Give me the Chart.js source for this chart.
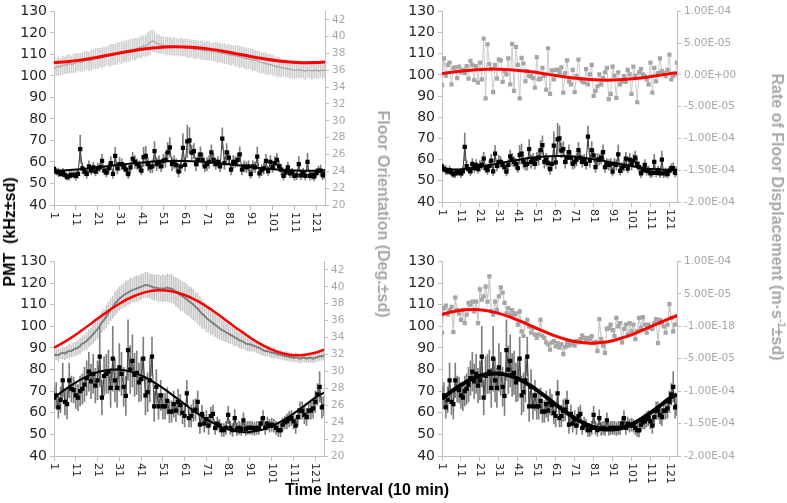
<!DOCTYPE html>
<html>
<head>
<meta charset="utf-8">
<script src="https://cdn.jsdelivr.net/npm/chart.js@4.4.0/dist/chart.umd.min.js"></script>
<style>
  body { margin: 0; background: #fff; }
  #lienzo { position: relative; width: 787px; height: 503px; overflow: hidden; font-family: "Liberation Sans", Arial, sans-serif; }
  canvas { position: absolute; }
  .titulo { position: absolute; font-weight: bold; font-size: 16px; white-space: nowrap; color: #000; }
  .gris { color: #a6a6a6; }
  .titulo sup { font-size: 10px; line-height: 0; }
</style>
</head>
<body>
<div id="lienzo">
  <canvas id="panelSupIzq" width="390" height="250" style="left:0;top:0"></canvas>
  <canvas id="panelSupDer" width="397" height="250" style="left:390px;top:0"></canvas>
  <canvas id="panelInfIzq" width="390" height="253" style="left:0;top:250px"></canvas>
  <canvas id="panelInfDer" width="397" height="253" style="left:390px;top:250px"></canvas>

  <div class="titulo" style="left:10px;top:232px;transform:translate(-50%,-50%) rotate(-90deg)">PMT&nbsp; (kHz±sd)</div>
  <div class="titulo gris" style="left:383px;top:214px;transform:translate(-50%,-50%) rotate(90deg)">Floor Orientation (Deg.±sd)</div>
  <div class="titulo gris" style="left:777px;top:217px;transform:translate(-50%,-50%) rotate(90deg)">Rate of Floor Displacement (m·s<sup>-1</sup>±sd)</div>
  <div class="titulo" style="left:367px;top:490px;transform:translate(-50%,-50%)">Time Interval (10 min)</div>
</div>

<script>
/* ========= EJES ========= */

const intervalos = Array.from({ length: 125 }, (_, i) => i + 1);
const ticksX = [1, 11, 21, 31, 41, 51, 61, 71, 81, 91, 101, 111, 121];
const ticksPmt = [40, 50, 60, 70, 80, 90, 100, 110, 120, 130];
const ticksOrient = [20, 22, 24, 26, 28, 30, 32, 34, 36, 38, 40, 42];
// tasa de desplazamiento en unidades de 1E-05
const ticksTasa = [-20, -15, -10, -5, 0, 5, 10];
const etiquetasTasaSup = ['-2.00E-04', '-1.50E-04', '-1.00E-04', '-5.00E-05', '0.00E+00', '5.00E-05', '1.00E-04'];
const etiquetasTasaInf = ['-2.00E-04', '-1.50E-04', '-1.00E-04', '-5.00E-05', '-1.00E-18', '5.00E-05', '1.00E-04'];

/* ========= DATOS ========= */

// PMT (kHz) - registro superior
const pmtSup = [
  56.8, 55.5, 55.2, 54.5, 55.0, 54.0, 53.0, 53.5, 54.0, 54.0,
  53.5, 54.5, 66.0, 57.0, 55.5, 54.5, 58.0, 56.0, 57.5, 55.5,
  57.0, 57.5, 60.5, 56.0, 55.0, 57.0, 59.5, 54.5, 62.8, 57.0,
  59.0, 59.0, 57.5, 56.5, 54.3, 57.5, 61.5, 60.0, 59.0, 58.0,
  56.0, 62.3, 62.8, 59.0, 57.5, 58.0, 65.0, 59.0, 60.0, 58.0,
  60.5, 61.0, 64.5, 66.8, 59.0, 60.0, 58.5, 55.5, 58.0, 66.6,
  58.7, 69.6, 70.0, 64.3, 65.0, 59.0, 61.0, 63.5, 61.0, 58.0,
  59.0, 60.0, 64.5, 61.0, 59.0, 60.0, 58.0, 70.9, 59.5, 64.5,
  62.0, 56.5, 60.0, 60.0, 61.0, 63.5, 56.5, 58.0, 57.5, 58.0,
  54.3, 58.0, 57.5, 62.5, 54.7, 56.2, 57.0, 60.5, 55.8, 60.0,
  57.6, 59.5, 61.0, 58.0, 56.5, 53.5, 55.0, 57.5, 54.7, 55.0,
  53.5, 53.8, 59.0, 53.8, 55.0, 53.5, 60.0, 53.5, 54.0, 53.2,
  54.8, 56.0, 56.0, 53.8, 54.5
];
const pmtSupSd = [
  1.5, 1.5, 2.0, 1.5, 2.0, 1.5, 1.5, 2.0, 1.5, 1.5,
  2.0, 2.0, 6.5, 2.5, 2.0, 2.0, 2.5, 2.0, 2.5, 2.0,
  2.5, 2.0, 3.0, 2.0, 2.0, 2.5, 3.0, 2.0, 4.0, 2.5,
  3.0, 2.5, 2.0, 2.5, 2.0, 2.5, 3.0, 3.0, 2.5, 2.5,
  2.0, 4.5, 4.5, 3.0, 2.5, 3.0, 4.5, 3.0, 3.0, 2.5,
  3.0, 3.5, 4.5, 4.5, 3.0, 3.0, 3.0, 2.5, 3.0, 6.5,
  3.0, 7.5, 6.0, 3.5, 3.5, 3.0, 3.0, 3.5, 3.0, 2.5,
  3.0, 3.0, 3.5, 3.0, 2.5, 2.5, 2.5, 5.0, 3.0, 4.0,
  3.0, 2.5, 3.0, 2.5, 3.0, 3.5, 2.5, 2.5, 2.5, 2.5,
  2.0, 2.5, 2.5, 4.5, 2.0, 2.5, 2.5, 3.0, 2.0, 3.0,
  2.5, 3.0, 3.0, 2.5, 2.5, 2.0, 2.0, 2.5, 2.0, 2.0,
  2.0, 2.0, 3.5, 2.0, 2.0, 2.0, 4.0, 2.0, 2.0, 2.0,
  2.0, 2.0, 2.5, 2.0, 2.0
];

// PMT (kHz) - registro inferior
const pmtInf = [
  67.0, 68.0, 62.5, 66.0, 75.0, 65.0, 64.0, 75.0, 71.0, 70.5,
  68.0, 67.0, 70.0, 71.0, 73.0, 76.0, 79.0, 74.5, 78.0, 72.5,
  75.0, 86.0, 67.0, 77.0, 78.0, 79.0, 71.5, 85.0, 75.0, 71.5,
  81.0, 78.0, 72.0, 67.8, 89.0, 80.0, 84.0, 77.5, 78.5, 74.0,
  75.5, 85.0, 68.0, 69.5, 75.0, 86.0, 63.0, 72.0, 63.0, 68.0,
  63.0, 63.0, 65.5, 60.5, 60.5, 64.0, 61.0, 65.0, 63.5, 60.0,
  58.5, 69.0, 57.5, 58.5, 61.0, 61.5, 65.0, 54.5, 59.5, 55.0,
  57.0, 54.0, 58.5, 59.5, 53.0, 55.0, 54.0, 52.0, 52.0, 53.0,
  59.0, 53.0, 52.0, 57.5, 52.5, 53.0, 52.5, 56.5, 52.5, 53.0,
  53.0, 53.0, 52.5, 53.0, 53.0, 55.0, 57.5, 53.0, 55.0, 54.0,
  54.5, 54.0, 53.0, 52.0, 51.8, 54.5, 55.5, 56.0, 57.0, 57.5,
  56.0, 54.0, 58.0, 61.0, 61.0, 59.0, 58.0, 61.0, 61.0, 62.0,
  65.0, 68.5, 72.0, 62.5, 63.0
];
const pmtInfSd = [
  5, 6, 5, 6, 8, 6, 7, 8, 6, 6,
  6, 6, 7, 7, 8, 8, 9, 8, 9, 8,
  9, 14, 8, 9, 9, 10, 9, 15, 10, 9,
  11, 10, 9, 9, 14, 11, 12, 10, 10, 9,
  10, 10, 9, 9, 10, 9, 7, 8, 6, 7,
  6, 6, 6, 5, 5, 6, 5, 6, 5, 5,
  5, 6, 4, 5, 5, 5, 5, 4, 4, 4,
  4, 4, 4, 4, 3, 3, 3, 3, 3, 3,
  4, 3, 3, 4, 3, 3, 3, 3.5, 3, 3,
  3, 3, 3, 3, 3, 3, 3.5, 3, 3, 3,
  3, 3, 3, 3, 3, 3, 3, 3.5, 3.5, 3.5,
  3.5, 3.5, 4, 4, 4, 4, 4, 4, 4, 4.5,
  5, 5, 7, 5, 4.5
];

// Orientación del piso (grados)
const orientSup = [
  36.2, 36.4, 36.5, 36.4, 36.6, 36.6, 36.7, 36.8, 36.7, 36.8,
  36.9, 37.0, 36.9, 37.0, 37.1, 37.2, 37.1, 37.2, 37.3, 37.4,
  37.4, 37.5, 37.5, 37.6, 37.7, 37.7, 37.8, 37.9, 37.9, 38.0,
  38.1, 38.1, 38.2, 38.3, 38.3, 38.4, 38.5, 38.5, 38.6, 38.7,
  38.8, 38.9, 38.9, 39.1, 39.3, 39.5, 39.4, 39.2, 39.1, 39.0,
  39.0, 38.9, 38.9, 38.9, 38.8, 38.8, 38.8, 38.7, 38.8, 38.7,
  38.7, 38.6, 38.6, 38.6, 38.5, 38.5, 38.5, 38.4, 38.4, 38.3,
  38.3, 38.3, 38.2, 38.2, 38.2, 38.1, 38.1, 38.0, 38.0, 37.9,
  37.9, 37.8, 37.8, 37.7, 37.7, 37.6, 37.6, 37.5, 37.4, 37.4,
  37.3, 37.2, 37.2, 37.1, 37.0, 36.9, 36.9, 36.8, 36.7, 36.7,
  36.6, 36.5, 36.4, 36.4, 36.3, 36.3, 36.2, 36.2, 36.1, 36.1,
  36.0, 36.0, 36.1, 36.0, 36.0, 35.9, 36.0, 36.0, 35.9, 36.0,
  36.0, 35.9, 36.0, 36.0, 36.0
];
const orientSupSd = [
  0.9, 1.0, 1.1, 1.0, 1.1, 1.0, 1.1, 1.1, 1.0, 1.1,
  1.1, 1.0, 1.1, 1.1, 1.2, 1.1, 1.1, 1.2, 1.1, 1.2,
  1.2, 1.1, 1.2, 1.2, 1.1, 1.2, 1.3, 1.2, 1.2, 1.3,
  1.2, 1.3, 1.2, 1.3, 1.2, 1.3, 1.2, 1.3, 1.2, 1.2,
  1.3, 1.2, 1.3, 1.4, 1.4, 1.3, 1.2, 1.1, 1.1, 1.0,
  1.0, 1.0, 1.1, 1.0, 1.0, 1.1, 1.0, 1.0, 1.1, 1.0,
  1.0, 1.1, 1.1, 1.0, 1.1, 1.1, 1.0, 1.1, 1.1, 1.0,
  1.1, 1.1, 1.0, 1.1, 1.1, 1.2, 1.1, 1.1, 1.2, 1.1,
  1.2, 1.2, 1.1, 1.2, 1.2, 1.3, 1.2, 1.2, 1.3, 1.2,
  1.2, 1.3, 1.2, 1.2, 1.3, 1.2, 1.2, 1.3, 1.2, 1.2,
  1.2, 1.1, 1.2, 1.1, 1.1, 1.0, 1.1, 1.0, 1.0, 1.0,
  1.0, 0.9, 1.0, 0.9, 0.9, 1.0, 0.9, 0.9, 1.0, 0.9,
  0.9, 0.9, 0.8, 0.9, 0.9
];
const orientInf = [
  31.9, 32.0, 31.9, 32.1, 32.2, 32.1, 32.3, 32.4, 32.4, 32.6,
  32.7, 32.8, 33.0, 33.3, 33.4, 33.6, 33.9, 34.1, 34.4, 34.7,
  35.0, 35.4, 35.8, 36.1, 36.5, 36.9, 37.3, 37.6, 38.0, 38.3,
  38.6, 38.8, 39.0, 39.2, 39.3, 39.5, 39.6, 39.7, 39.8, 39.9,
  40.0, 40.1, 40.2, 40.2, 40.1, 40.0, 39.9, 39.9, 39.8, 39.8,
  39.8, 39.8, 39.9, 39.8, 39.8, 39.6, 39.4, 39.2, 39.0, 38.9,
  38.7, 38.5, 38.3, 38.1, 37.9, 37.6, 37.4, 37.1, 36.8, 36.6,
  36.3, 36.1, 35.9, 35.7, 35.5, 35.3, 35.1, 34.9, 34.8, 34.6,
  34.5, 34.3, 34.2, 34.0, 33.9, 33.7, 33.6, 33.5, 33.3, 33.2,
  33.2, 33.1, 33.0, 32.9, 32.8, 32.7, 32.5, 32.4, 32.4, 32.3,
  32.2, 32.2, 32.1, 32.0, 32.0, 31.9, 31.8, 31.8, 31.7, 31.7,
  31.6, 31.7, 31.6, 31.5, 31.6, 31.6, 31.5, 31.6, 31.6, 31.5,
  31.6, 31.7, 31.8, 31.8, 31.9
];
const orientInfSd = [
  0.6, 0.6, 0.7, 0.6, 0.7, 0.7, 0.7, 0.8, 0.7, 0.8,
  0.8, 0.8, 0.9, 0.9, 0.9, 1.0, 1.0, 1.0, 1.1, 1.1,
  1.1, 1.2, 1.2, 1.2, 1.3, 1.3, 1.3, 1.3, 1.4, 1.4,
  1.4, 1.4, 1.4, 1.5, 1.4, 1.5, 1.4, 1.5, 1.5, 1.4,
  1.5, 1.4, 1.5, 1.5, 1.4, 1.5, 1.5, 1.5, 1.6, 1.5,
  1.6, 1.5, 1.6, 1.6, 1.7, 1.6, 1.7, 1.7, 1.8, 1.7,
  1.8, 1.8, 1.7, 1.8, 1.8, 1.7, 1.8, 1.7, 1.7, 1.6,
  1.6, 1.5, 1.5, 1.4, 1.4, 1.3, 1.3, 1.2, 1.2, 1.1,
  1.1, 1.0, 1.0, 1.0, 0.9, 0.9, 0.9, 0.8, 0.8, 0.8,
  0.8, 0.7, 0.7, 0.7, 0.7, 0.7, 0.6, 0.6, 0.6, 0.6,
  0.6, 0.6, 0.5, 0.5, 0.5, 0.5, 0.5, 0.5, 0.5, 0.5,
  0.5, 0.5, 0.5, 0.5, 0.5, 0.5, 0.5, 0.5, 0.5, 0.5,
  0.5, 0.5, 0.5, 0.5, 0.5
];

// Tasa de desplazamiento del piso (x 1E-05 m/s)
const tasaSup = [
  -1.6, 2.6, -0.1, 1.6, 1.95, -1.5, 1.1, 1.2, -0.5, 1.3,
  0.4, 0.8, 0.3, 1.4, -0.6, 2.2, 1.6, -0.8, 1.4, -1.2,
  1.95, -0.7, 5.7, -3.7, 4.8, 1.7, 0.9, -2.7, 1.6, -0.6,
  2.4, 2.3, -1.1, 0.6, 0.1, 2.6, -1.5, 4.9, -2.5, 4.4,
  1.6, -3.7, 2.7, 1.8, -1.0, 0.6, -0.2, -0.2, -0.5, -2.0,
  2.8, -0.7, -0.6, 1.1, -0.1, -2.3, 4.2, -3.0, 0.7, -0.7,
  0.8, 0.8, 0.4, 1.2, -2.8, 0.3, 2.3, -1.0, -1.5, 0.8,
  -2.7, -0.2, 2.4, -0.7, -1.0, -1.2, 0.9, -1.5, 0.1, 1.6,
  -3.3, -2.5, -1.8, 0.1, -1.5, -0.5, 0.4, 1.1, -3.8, -3.0,
  1.3, -0.1, -3.6, 0.4, -1.5, -1.0, -0.2, -1.1, 0.8, 0.1,
  -3.0, 1.3, -0.1, -4.3, 0.4, 0.9, 0.1, -0.2, -0.7, -1.5,
  1.95, -2.8, 1.1, -1.0, 0.3, 2.6, 0.6, 0.3, -0.2, 0.8,
  3.2, -0.7, -0.2, 0.1, 1.95
];
const tasaInf = [
  -1.0, 2.8, 3.2, 1.8, 2.5, 3.0, -0.9, 4.4, 2.5, 2.0,
  1.0, 2.5, 0.5, 1.8, 3.6, 3.3, 3.8, 2.3, 3.8, 0.5,
  5.7, 4.1, 4.6, 6.1, 3.8, 7.7, 2.3, 1.8, 3.8, 2.5,
  4.6, 6.0, 5.2, 3.6, 2.0, 2.8, 1.8, 2.5, 1.8, 2.0,
  0.25, 2.3, -0.8, -1.5, 0.5, 1.0, 0, -1.0, -0.25, -1.3,
  -1.8, -1.3, 1.0, -1.5, -1.8, -2.5, -2.8, -3.6, -2.5, -2.3,
  -3.1, -2.6, -3.3, -2.8, -4.3, -3.2, -2.6, -3.0, -2.6, -2.8,
  -3.0, -2.3, -2.5, -2.0, -1.4, -1.8, -2.3, -1.8, -2.0, -1.5,
  -2.6, -2.4, -3.8, 1.1, -2.0, -3.0, -4.1, -0.4, -0.25, 0.25,
  -0.6, -1.5, 1.3, 0, 0.5, -2.5, -0.4, 0.25, -1.3, 0.5,
  -0.8, 0.25, -2.0, -0.8, 1.3, -0.25, 1.4, 0.25, -1.0, 0.25,
  -0.25, -0.4, 0.5, 1.1, -2.6, 1.0, 0.5, 0, -1.0, 0.25,
  3.4, 1.3, -0.8, 0.25, 1.6
];

// Curvas de ajuste (leídas cada 6 intervalos)
const xAjuste = [1, 7, 13, 19, 25, 31, 37, 43, 49, 55, 61, 67, 73, 79, 85, 91, 97, 103, 109, 115, 121, 125];
const ajustePmtSupIzq = [55.95, 56.2, 56.66, 57.26, 57.96, 58.68, 59.35, 59.91, 60.3, 60.49, 60.45, 60.19, 59.74, 59.14, 58.44, 57.72, 57.05, 56.49, 56.1, 55.91, 55.95, 56.1];
const ajustePmtSupDer = [55.4, 55.3, 55.63, 56.32, 57.22, 58.23, 59.25, 60.2, 60.96, 61.48, 61.7, 61.59, 61.17, 60.48, 59.58, 58.57, 57.55, 56.6, 55.84, 55.32, 55.1, 55.14];
const ajusteOrientSup = [36.92, 37.03, 37.21, 37.46, 37.75, 38.05, 38.33, 38.56, 38.72, 38.8, 38.78, 38.67, 38.49, 38.24, 37.95, 37.65, 37.38, 37.14, 36.98, 36.9, 36.92, 36.98];
const ajusteTasaSup = [0.19, 0.45, 0.67, 0.83, 0.91, 0.91, 0.83, 0.67, 0.45, 0.19, -0.09, -0.35, -0.57, -0.73, -0.81, -0.81, -0.73, -0.57, -0.35, -0.09, 0.19, 0.36];
const ajustePmtInfIzq = [67.0, 71.4, 75.2, 78.1, 79.7, 79.9, 78.8, 76.3, 72.75, 68.5, 64.0, 59.6, 55.8, 52.9, 51.3, 51.1, 52.2, 54.7, 58.25, 62.5, 67.0, 69.3];
const ajustePmtInfDer = [66.6, 70.5, 73.9, 76.5, 77.9, 78.1, 77.1, 74.9, 71.7, 67.9, 63.8, 59.9, 56.5, 53.9, 52.5, 52.3, 53.3, 55.5, 58.7, 62.5, 66.6, 68.5];
const ajusteOrientInf = [32.8, 33.67, 34.71, 35.85, 36.97, 38.0, 38.82, 39.37, 39.6, 39.48, 39.03, 38.3, 37.34, 36.23, 35.08, 34.0, 33.07, 32.37, 31.97, 31.92, 32.2, 32.57];
const ajusteTasaInf = [1.82, 2.28, 2.55, 2.59, 2.39, 1.99, 1.41, 0.7, -0.07, -0.83, -1.52, -2.07, -2.44, -2.6, -2.52, -2.22, -1.72, -1.07, -0.32, 0.45, 1.19, 1.63];

/* ========= ESTILO ========= */

const FUENTE = 'DejaVu Sans';
const GRIS_EJE = '#bfbfbf';
const TAM_X = 11;

/* ========= UTILIDADES ========= */

const aPuntos = (xs, ys) => ys.map((y, i) => ({ x: xs[i], y }));
const aBarras = (ys, sd) => ys.map((y, i) => ({ x: intervalos[i], y: [y - sd[i], y + sd[i]] }));

function serieAjuste(datos, eje, color, ancho, orden) {
  return { type: 'line', data: aPuntos(xAjuste, datos), yAxisID: eje, borderColor: color,
           borderWidth: ancho, pointRadius: 0, tension: 0.4, order: orden };
}

function seriePmt(datos) {
  return { type: 'line', data: aPuntos(intervalos, datos), yAxisID: 'yL', borderColor: '#404040',
           borderWidth: 1, pointStyle: 'rect', pointRadius: 3, pointBackgroundColor: '#000',
           pointBorderColor: '#000', pointBorderWidth: 0, order: 2 };
}

function serieGris(datos, color, ancho, conPuntos) {
  return { type: 'line', data: aPuntos(intervalos, datos), yAxisID: 'yR', borderColor: color,
           borderWidth: ancho, pointStyle: 'rect', pointRadius: conPuntos ? 3 : 0,
           pointBackgroundColor: '#a6a6a6', pointBorderColor: '#a6a6a6', pointBorderWidth: 0, order: 3 };
}

function serieBarras(datos, sd, eje, color, orden) {
  return { type: 'bar', data: aBarras(datos, sd), yAxisID: eje, backgroundColor: color,
           barThickness: 1, grouped: false, order: orden };
}

// Etiquetas del eje X giradas 90° (se leen de arriba hacia abajo)
const etiquetasX = {
  id: 'etiquetasX',
  afterDraw(chart) {
    const eje = chart.scales.x;
    const ctx = chart.ctx;
    ctx.save();
    ctx.font = TAM_X + 'px ' + FUENTE;
    ctx.fillStyle = '#262626';
    ctx.textAlign = 'left';
    ctx.textBaseline = 'middle';
    eje.ticks.forEach(t => {
      ctx.save();
      ctx.translate(eje.getPixelForValue(t.value), eje.top + 7);
      ctx.rotate(Math.PI / 2);
      ctx.fillText(String(t.value), 0, 0);
      ctx.restore();
    });
    ctx.restore();
  }
};

function crearPanel(id, p) {
  const rejilla = { drawOnChartArea: false, drawTicks: true, tickLength: 4, color: GRIS_EJE };
  new Chart(document.getElementById(id), {
    type: 'line',
    data: { datasets: p.series },
    options: {
      responsive: false,
      animation: false,
      devicePixelRatio: 1,
      layout: { padding: { top: p.arriba, left: 0, right: 0, bottom: 0 } },
      plugins: { legend: { display: false }, tooltip: { enabled: false } },
      scales: {
        x: {
          type: 'linear', min: 1, max: 125, offset: false,
          afterBuildTicks: s => { s.ticks = ticksX.map(v => ({ value: v })); },
          afterFit: s => { s.height = p.altoX; },
          ticks: { display: false },
          grid: { ...rejilla, tickLength: 5, offset: false },
          border: { color: GRIS_EJE }
        },
        yL: {
          type: 'linear', position: 'left', min: 40, max: 130, beginAtZero: false,
          afterBuildTicks: s => { s.ticks = ticksPmt.map(v => ({ value: v })); },
          afterFit: s => { s.width = p.anchoIzq; },
          ticks: { font: { family: FUENTE, size: 14 }, color: '#262626', padding: 3 },
          grid: rejilla,
          border: { color: GRIS_EJE }
        },
        yR: {
          type: 'linear', position: 'right', min: p.derMin, max: p.derMax, beginAtZero: false,
          afterBuildTicks: s => { s.ticks = p.derTicks.map(v => ({ value: v })); },
          afterFit: s => { s.width = p.anchoDer; },
          ticks: { font: { family: FUENTE, size: 10.5 }, color: '#a6a6a6', padding: 3, callback: p.derFormato },
          grid: rejilla,
          border: { color: GRIS_EJE }
        }
      }
    },
    plugins: [etiquetasX]
  });
}

/* ========= PANELES ========= */

crearPanel('panelSupIzq', {
  arriba: 8, altoX: 45, anchoIzq: 54, anchoDer: 65,
  derMin: 20, derMax: 43, derTicks: ticksOrient, derFormato: v => v,
  series: [
    serieAjuste(ajusteOrientSup, 'yR', '#ff0000', 3, 0),
    serieAjuste(ajustePmtSupIzq, 'yL', '#000000', 2, 1),
    seriePmt(pmtSup),
    serieGris(orientSup, '#a6a6a6', 1.2, false),
    serieBarras(pmtSup, pmtSupSd, 'yL', '#7f7f7f', 4),
    serieBarras(orientSup, orientSupSd, 'yR', '#d0d0d0', 5)
  ]
});

crearPanel('panelSupDer', {
  arriba: 7, altoX: 48, anchoIzq: 52, anchoDer: 110,
  derMin: -20, derMax: 10, derTicks: ticksTasa, derFormato: (v, i) => etiquetasTasaSup[i],
  series: [
    serieAjuste(ajusteTasaSup, 'yR', '#ff0000', 3, 0),
    serieAjuste(ajustePmtSupDer, 'yL', '#000000', 2, 1),
    seriePmt(pmtSup),
    serieGris(tasaSup, '#cccccc', 1, true),
    serieBarras(pmtSup, pmtSupSd, 'yL', '#7f7f7f', 4)
  ]
});

crearPanel('panelInfIzq', {
  arriba: 9, altoX: 47, anchoIzq: 54, anchoDer: 66,
  derMin: 20, derMax: 43, derTicks: ticksOrient, derFormato: v => v,
  series: [
    serieAjuste(ajusteOrientInf, 'yR', '#ff0000', 2.5, 0),
    serieAjuste(ajustePmtInfIzq, 'yL', '#000000', 2, 1),
    seriePmt(pmtInf),
    serieGris(orientInf, '#808080', 2, false),
    serieBarras(pmtInf, pmtInfSd, 'yL', '#7f7f7f', 4),
    serieBarras(orientInf, orientInfSd, 'yR', '#c8c8c8', 5)
  ]
});

crearPanel('panelInfDer', {
  arriba: 9, altoX: 47, anchoIzq: 52, anchoDer: 110,
  derMin: -20, derMax: 10, derTicks: ticksTasa, derFormato: (v, i) => etiquetasTasaInf[i],
  series: [
    serieAjuste(ajusteTasaInf, 'yR', '#ff0000', 3, 0),
    serieAjuste(ajustePmtInfDer, 'yL', '#000000', 4, 1),
    seriePmt(pmtInf),
    serieGris(tasaInf, '#c8c8c8', 1.2, true),
    serieBarras(pmtInf, pmtInfSd, 'yL', '#7f7f7f', 4)
  ]
});
</script>
</body>
</html>
